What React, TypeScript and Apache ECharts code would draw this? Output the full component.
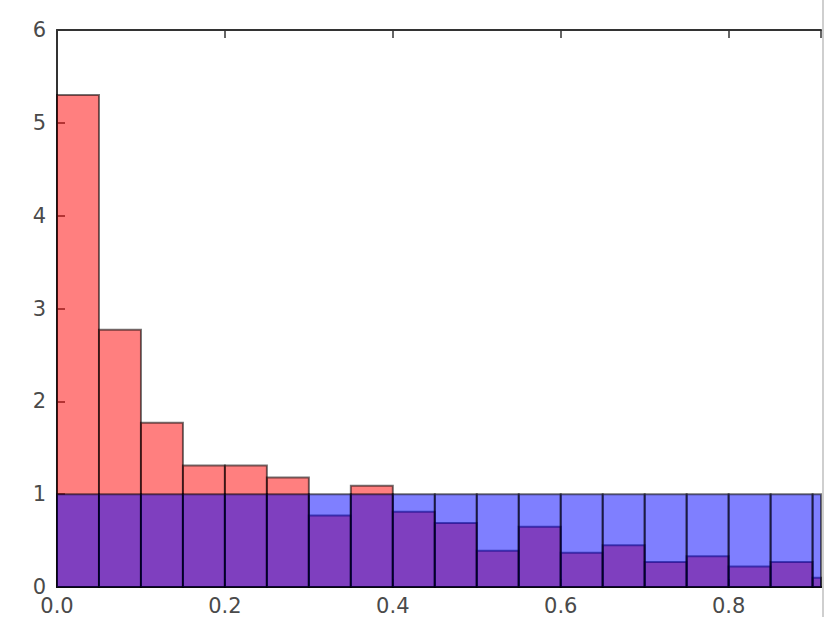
import React, { useEffect, useRef } from "react";
import * as echarts from "echarts";

// Histogram bin edges (left edge of each bin), bin width 0.05
const binStarts = [0.0, 0.05, 0.1, 0.15, 0.2, 0.25, 0.3, 0.35, 0.4, 0.45, 0.5, 0.55, 0.6, 0.65, 0.7, 0.75, 0.8, 0.85, 0.9];
const binWidth = 0.05;
// Red histogram (density)
const redValues = [5.3, 2.77, 1.77, 1.31, 1.31, 1.18, 0.77, 1.09, 0.81, 0.69, 0.39, 0.65, 0.37, 0.45, 0.27, 0.33, 0.22, 0.27, 0.1];
// Blue histogram (density, uniform)
const blueValues = [1.0, 1.0, 1.0, 1.0, 1.0, 1.0, 1.0, 1.0, 1.0, 1.0, 1.0, 1.0, 1.0, 1.0, 1.0, 1.0, 1.0, 1.0, 1.0];

const xMin = 0;
const xMax = 0.91;
const yMin = 0;
const yMax = 6;

function makeSeries(values: number[], fill: string, z: number) {
  return {
    type: "custom",
    z,
    renderItem: (params: any, api: any) => {
      const x0 = api.value(0);
      const x1 = api.value(1);
      const h = api.value(2);
      const p0 = api.coord([x0, h]);
      const p1 = api.coord([x1, 0]);
      const shape = echarts.graphic.clipRectByRect(
        { x: p0[0], y: p0[1], width: p1[0] - p0[0], height: p1[1] - p0[1] },
        {
          x: params.coordSys.x,
          y: params.coordSys.y,
          width: params.coordSys.width,
          height: params.coordSys.height,
        }
      );
      if (!shape) return null;
      return {
        type: "rect",
        shape,
        style: { fill, stroke: "rgba(0,0,0,0.55)", lineWidth: 2 },
      };
    },
    encode: { x: [0, 1], y: 2 },
    data: binStarts.map((s, i) => [s, s + binWidth, values[i]]),
  };
}

export default function App() {
  const ref = useRef<HTMLDivElement>(null);
  useEffect(() => {
    if (!ref.current) return;
    const chart = echarts.init(ref.current, undefined, { renderer: "svg" });
    const labelStyle = {
      color: "#4a4a4a",
      fontSize: 21,
      fontFamily: "DejaVu Sans",
    };
    const tickStyle = { lineStyle: { color: "#333", width: 1.5 } };
    chart.setOption({
      animation: false,
      backgroundColor: "#ffffff",
      grid: { left: 57, top: 30, right: 5, bottom: 30, containLabel: false },
      xAxis: [
        {
          type: "value",
          position: "bottom",
          min: xMin,
          max: xMax,
          interval: 0.2,
          splitLine: { show: false },
          axisLine: { show: true, onZero: false, lineStyle: { color: "#333", width: 2 } },
          axisTick: { show: true, inside: true, length: 8, ...tickStyle },
          axisLabel: {
            ...labelStyle,
            margin: 8,
            showMaxLabel: false,
            formatter: (v: number) => v.toFixed(1),
          },
        },
        {
          type: "value",
          position: "top",
          min: xMin,
          max: xMax,
          interval: 0.2,
          splitLine: { show: false },
          axisLine: { show: true, onZero: false, lineStyle: { color: "#333", width: 2 } },
          axisTick: { show: true, inside: true, length: 8, ...tickStyle },
          axisLabel: { show: false },
        },
      ],
      yAxis: {
        type: "value",
        min: yMin,
        max: yMax,
        interval: 1,
        splitLine: { show: false },
        axisLine: { show: true, onZero: false, lineStyle: { color: "#333", width: 2 } },
        axisTick: { show: true, inside: true, length: 8, ...tickStyle },
        axisLabel: { ...labelStyle, margin: 11 },
      },
      series: [
        makeSeries(redValues, "rgba(255,0,0,0.5)", 2),
        makeSeries(blueValues, "rgba(0,0,255,0.5)", 3),
      ],
      graphic: [
        {
          type: "rect",
          left: 822,
          top: 0,
          shape: { width: 2, height: 617 },
          style: { fill: "#cfcfcf" },
          z: 100,
        },
      ],
    });
    return () => chart.dispose();
  }, []);
  return (
    <div
      ref={ref}
      style={{ position: "fixed", left: 0, top: 0, width: 826, height: 617 }}
    />
  );
}
